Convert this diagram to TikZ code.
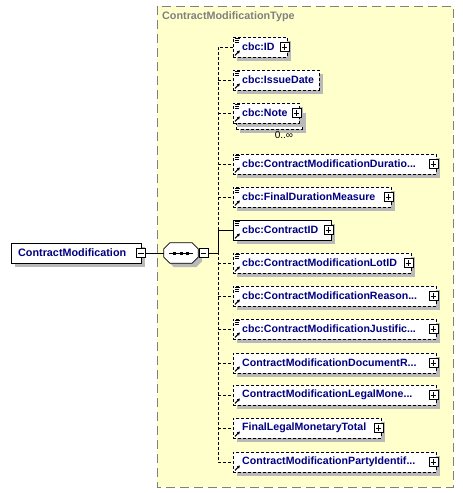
\documentclass[tikz,border=0pt]{standalone}
\usepackage{fontspec}
\setmainfont{Liberation Sans}
\usetikzlibrary{shadows,arrows.meta}
\definecolor{typefill}{RGB}{255,255,204}
\definecolor{typeborder}{RGB}{128,128,128}
\definecolor{elname}{RGB}{0,0,128}
\definecolor{shadowgray}{RGB}{185,185,185}
\tikzset{
  elbox/.style={draw=black, fill=white, minimum height=20pt, inner sep=0pt, anchor=west,
    line width=0.8pt, general shadow={fill=shadowgray, shadow xshift=4pt, shadow yshift=-4pt}},
  optbox/.style={elbox, dash pattern=on 3pt off 2pt},
  reqbox/.style={elbox},
  eltext/.style={anchor=west, inner sep=0pt, text=elname, font=\bfseries\fontsize{10.6}{12.5}\selectfont},
  plusbox/.style={draw=black, fill=white, minimum size=9pt, inner sep=0pt, line width=0.6pt,
    path picture={\draw[line width=0.7pt] ([xshift=1.8pt]path picture bounding box.west) -- ([xshift=-1.8pt]path picture bounding box.east)
      ([yshift=-1.8pt]path picture bounding box.north) -- ([yshift=1.8pt]path picture bounding box.south);}},
  minusbox/.style={draw=black, fill=white, minimum size=9pt, inner sep=0pt, line width=0.6pt,
    path picture={\draw[line width=0.7pt] ([xshift=1.8pt]path picture bounding box.west) -- ([xshift=-1.8pt]path picture bounding box.east);}},
  docline/.style={line width=0.7pt},
  refarrow/.style={line width=1pt, -{Latex[length=3pt,width=3.5pt]}},
  optline/.style={line width=0.8pt, dash pattern=on 3pt off 2pt},
  reqline/.style={line width=0.8pt},
  typebox/.style={fill=typefill, draw=typeborder, line width=0.9pt, dash pattern=on 9pt off 5pt},
  seqarea/.style={minimum width=34pt, minimum height=20pt, inner sep=0pt},
  octo/.style={draw=black, fill=white, line width=0.8pt,
    general shadow={fill=shadowgray, shadow xshift=4pt, shadow yshift=-4pt}}
}
\newcommand\xel[7]{%
  \node[#5, minimum width={#3-233}] (#1) at (233,#2) {};
  \node[eltext] (#1t) at ([xshift=9pt]#1.west) {#4};
  \ifnum#6=1
    \draw[docline] ([xshift=2pt,yshift=-2pt]#1.north west) -- ++(5pt,0pt)
      ([xshift=2pt,yshift=-4pt]#1.north west) -- ++(4pt,0pt)
      ([xshift=2pt,yshift=-6pt]#1.north west) -- ++(4pt,0pt);
  \fi
  \draw[refarrow] ([xshift=2pt,yshift=2pt]#1.south west) -- ++(5pt,5pt);
  \ifnum#7=1 \node[plusbox] (#1p) at ([xshift=-3.5pt]#1.east) {};\fi
}
\begin{document}
\begin{tikzpicture}[x=1pt,y=-1pt]
\useasboundingbox (0,0) rectangle (463,493);
% type box
\draw[typebox] (157,6) rectangle (453,487);
\node[anchor=west, inner sep=0pt, text=typeborder, font=\bfseries\fontsize{10.8}{13}\selectfont] (title) at (162,17) {ContractModificationType};

% root element
\node[reqbox, minimum width=130] (cm) at (11,253) {};
\node[eltext, font=\bfseries\fontsize{10.8}{13}\selectfont] (cmt) at ([xshift=7pt]cm.west) {ContractModification};
\node[minusbox] (cmm) at (141,253) {};

% sequence compositor
\node[seqarea] (seq) at (181,253) {};
\path[octo] ([xshift=6pt]seq.north west) -- ([xshift=-6pt]seq.north east) -- ([yshift=-6pt]seq.north east)
  -- ([yshift=6pt]seq.south east) -- ([xshift=-6pt]seq.south east) -- ([xshift=6pt]seq.south west)
  -- ([yshift=6pt]seq.south west) -- ([yshift=-6pt]seq.north west) -- cycle;
\draw[line width=0.8pt] ([xshift=5pt]seq.west) -- ([xshift=-5pt]seq.east);
\fill ([xshift=-6.5pt]seq.center) +(-1.5pt,-1.5pt) rectangle +(1.5pt,1.5pt);
\fill (seq.center) +(-1.5pt,-1.5pt) rectangle +(1.5pt,1.5pt);
\fill ([xshift=6.5pt]seq.center) +(-1.5pt,-1.5pt) rectangle +(1.5pt,1.5pt);
\node[minusbox] (seqm) at (203.5,253) {};
\draw[reqline] (cmm.east) -- (seq.west);
\coordinate (sp) at (218,253);

% stacked second box of cbc:Note
\node[optbox, minimum width=66] (e3b) at (236,119) {};

% elements
\xel{e1}{47}{287}{cbc:ID}{optbox}{1}{1}
\xel{e2}{80}{319}{cbc:IssueDate}{optbox}{1}{0}
\xel{e3}{113}{299}{cbc:Note}{optbox}{1}{1}
\xel{e4}{164}{436}{cbc:ContractModificationDuratio...}{optbox}{1}{1}
\xel{e5}{197}{391}{cbc:FinalDurationMeasure}{optbox}{1}{1}
\xel{e6}{230}{331}{cbc:ContractID}{reqbox}{1}{1}
\xel{e7}{263}{411}{cbc:ContractModificationLotID}{optbox}{1}{1}
\xel{e8}{296}{436}{cbc:ContractModificationReason...}{optbox}{1}{1}
\xel{e9}{329}{436}{cbc:ContractModificationJustific...}{optbox}{1}{1}
\xel{e10}{363}{436}{ContractModificationDocumentR...}{optbox}{0}{1}
\xel{e11}{395}{436}{ContractModificationLegalMone...}{optbox}{0}{1}
\xel{e12}{428}{381}{FinalLegalMonetaryTotal}{optbox}{0}{1}
\xel{e13}{462}{436}{ContractModificationPartyIdentif...}{optbox}{0}{1}

\node[inner sep=0pt, font=\fontsize{10}{11}\selectfont] (mult) at (284,135) {0..∞};

% connectors
\draw[optline] (e1.west) -- (e1.west -| sp) -- (e13.west -| sp) -- (e13.west);
\foreach \e in {e2,e3,e4,e5,e7,e8,e9,e10,e11,e12} {\draw[optline] (sp |- \e.west) -- (\e.west);}
\draw[reqline] (e6.west) -- (e6.west -| sp) -- (sp) -- (seqm.east);
\end{tikzpicture}
\end{document}
